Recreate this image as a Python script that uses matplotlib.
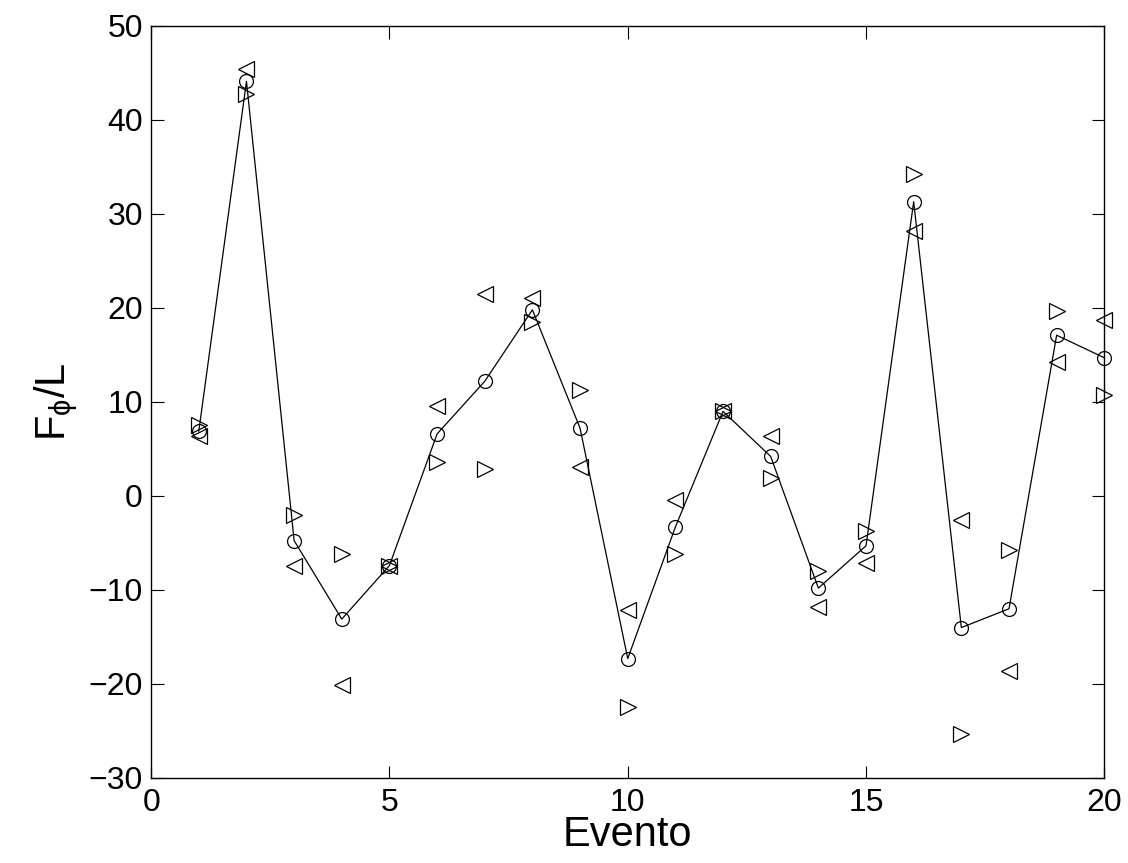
import numpy as np
import matplotlib.pyplot as plt

plt.rcParams['font.family'] = ['Liberation Sans', 'DejaVu Sans']
plt.rcParams['mathtext.fontset'] = 'custom'
plt.rcParams['mathtext.rm'] = 'Liberation Sans'
plt.rcParams['mathtext.it'] = 'Liberation Sans'

evento = np.arange(1, 21)

# mean value (circles, joined by the line)
f_mean = [6.9, 44.1, -4.75, -13.1, -7.4, 6.6, 12.2, 19.8, 7.2, -17.3,
          -3.3, 9.0, 4.2, -9.8, -5.3, 31.3, -14.0, -12.0, 17.1, 14.7]
# left-pointing triangles
f_left = [6.4, 45.4, -7.5, -20.1, -7.4, 9.6, 21.5, 21.1, 3.05, -12.1,
          -0.4, 9.0, 6.4, -11.8, -7.1, 28.2, -2.6, -18.6, 14.3, 18.7]
# right-pointing triangles
f_right = [7.5, 42.8, -2.05, -6.2, -7.4, 3.6, 2.9, 18.5, 11.3, -22.5,
           -6.2, 9.0, 1.9, -8.0, -3.7, 34.2, -25.3, -5.7, 19.7, 10.7]

fig = plt.figure(figsize=(11.28, 8.63), dpi=100)
ax = fig.add_axes([0.134, 0.0985, 0.845, 0.8715])

ax.plot(evento, f_mean, '-o', color='k', lw=0.9, ms=10, mfc='none', mew=0.9,
        clip_on=False)
ax.plot(evento, f_left, '<', color='k', ms=11.5, mfc='none', mew=0.9,
        clip_on=False)
ax.plot(evento, f_right, '>', color='k', ms=11.5, mfc='none', mew=0.9,
        clip_on=False)

ax.set_xlim(0, 20)
ax.set_ylim(-30, 50)
ax.set_xticks([0, 5, 10, 15, 20])
ax.set_yticks(np.arange(-30, 51, 10))
ax.tick_params(direction='in', length=9, width=0.8, labelsize=23,
               top=True, right=True)
ax.tick_params(axis='x', pad=7)
ax.tick_params(axis='y', pad=6)
for s in ax.spines.values():
    s.set_linewidth(1.0)

ax.set_xlabel('Evento', fontsize=30, labelpad=-2)
ax.set_ylabel(r'F$_\phi$/L', fontsize=30, labelpad=6)

fig.savefig('out.png', dpi=100)
